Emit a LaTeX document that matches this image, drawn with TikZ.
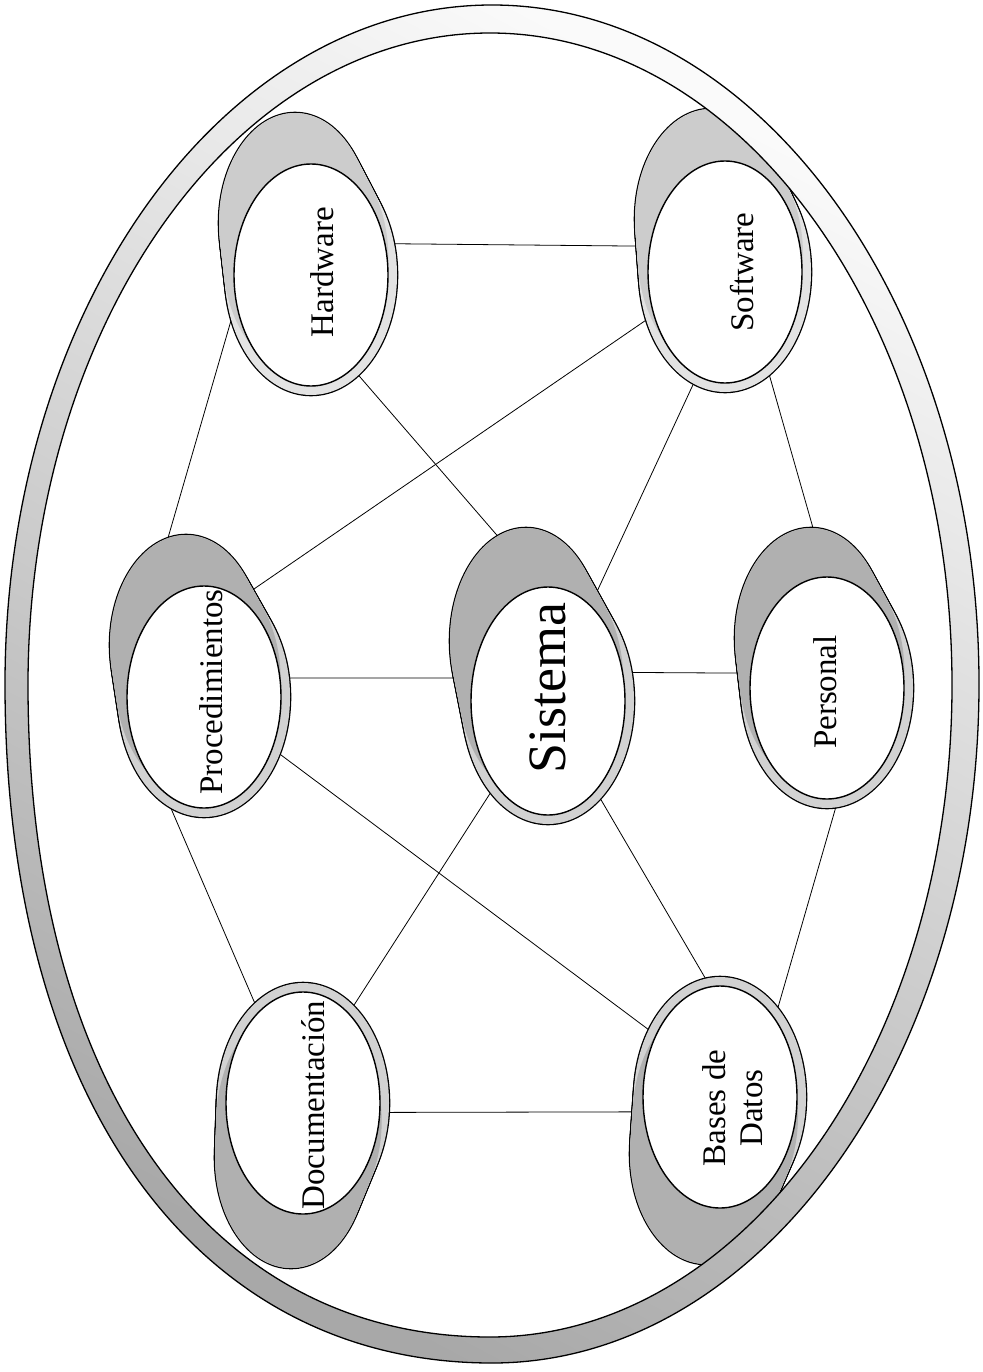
\documentclass[tikz,border=0pt]{standalone}
\usepackage{fontspec}
\setmainfont{Liberation Serif}
\usetikzlibrary{shapes.geometric}
\pgfdeclarelayer{bg}
\pgfdeclarelayer{blobl}
\pgfdeclarelayer{ringl}
\pgfsetlayers{bg,blobl,ringl,main}
\tikzset{
  nd/.style={ellipse, draw, fill=white, line width=1.4pt, inner sep=0pt, outer sep=0pt, minimum width=154pt, minimum height=222pt},
  lbl/.style={rotate=90, inner sep=0pt, font=\fontsize{33}{37}\selectfont, align=center},
  link/.style={line width=0.8pt},
  ringline/.style={line width=1.3pt},
  ringfill/.style={even odd rule, top color=gray!4, middle color=gray!50, bottom color=gray!68, shading angle=-28},
}
% cx cy a b ox oy light dark
\newcommand\myblob[8]{%
  \foreach \i in {0,...,12}{
    \draw[line width=2.6pt] ({#1+\i/12*(#5)},{#2+\i/12*(#6)}) ellipse [x radius={(#3+9-10*\i/12)*1pt}, y radius={(#4+9-10*\i/12)*1pt}];
  }
  \foreach \i in {0,...,12}{
    \fill[#7] ({#1+\i/12*(#5)},{#2+\i/12*(#6)}) ellipse [x radius={(#3+9-10*\i/12)*1pt}, y radius={(#4+9-10*\i/12)*1pt}];
  }
  \foreach \i in {4,...,12}{
    \fill[#8] ({#1+\i/12*(#5)},{#2+\i/12*(#6)}) ellipse [x radius={(#3+9-10*\i/12)*1pt}, y radius={(#4+9-10*\i/12)*1pt}];
  }
}
\newcommand\outerring{(492,5) .. controls (223,5) and (5,309) .. (5,684)
  .. controls (5,1098.2) and (195,1363) .. (492,1363)
  .. controls (761,1363) and (979,1059) .. (979,684)
  .. controls (979,309) and (761,5) .. (492,5) -- cycle}
\newcommand\innerring{(490,33) .. controls (234.8,33) and (28,324.9) .. (28,685)
  .. controls (28,1082.7) and (208.2,1337) .. (490,1337)
  .. controls (745.2,1337) and (952,1045.1) .. (952,685)
  .. controls (952,324.9) and (745.2,33) .. (490,33) -- cycle}
\begin{document}
\begin{tikzpicture}[x=1pt,y=-1pt]
\useasboundingbox (0,0) rectangle (982,1372);
\begin{pgfonlayer}{bg}
  \fill[white] (0,0) rectangle (982,1372);
\end{pgfonlayer}

% nodes
\node[nd] (hw)   at (311,275) {};
\node[nd] (sw)   at (725,272) {};
\node[nd] (proc) at (204,697) {};
\node[nd, minimum height=228pt] (sis) at (548,701) {};
\node[nd] (pers) at (827,688) {};
\node[nd] (doc)  at (303,1103) {};
\node[nd] (bd)   at (720,1097) {};

\node[lbl] (thw)   at (322,272) {Hardware};
\node[lbl] (tsw)   at (742,272) {Software};
\node[lbl] (tproc) at (211,692) {Procedimientos};
\node[lbl, font=\fontsize{54}{60}\selectfont] (tsis) at (548,688) {Sistema};
\node[lbl] (tpers) at (825,692) {Personal};
\node[lbl] (tdoc)  at (313,1105) {Documentación};
\node[lbl] (tbd)   at (733,1108) {Bases de\\Datos};

% blobs
\begin{pgfonlayer}{blobl}
  \myblob{311}{275}{77}{111}{-16}{-52}{gray!22}{gray!40}
  \myblob{725}{272}{77}{111}{-14}{-53}{gray!22}{gray!40}
  \myblob{204}{697}{77}{111}{-18}{-52}{gray!35}{gray!62}
  \myblob{548}{701}{77}{114}{-22}{-60}{gray!35}{gray!62}
  \myblob{827}{688}{77}{111}{-16}{-50}{gray!35}{gray!62}
  \myblob{303}{1103}{77}{111}{-12}{55}{gray!35}{gray!62}
  \myblob{720}{1097}{77}{111}{-14}{57}{gray!35}{gray!62}
\end{pgfonlayer}

% big ring
\begin{pgfonlayer}{ringl}
  \shade[ringfill] \outerring \innerring;
  \draw[ringline] \outerring;
  \draw[ringline] \innerring;
\end{pgfonlayer}

% connectors
\begin{pgfonlayer}{bg}
  \draw[link] (hw.23) -- (sw.161);
  \draw[link] (hw.200) -- (proc.137);
  \draw[link] (hw.294) -- (sis.93);
  \draw[link] (sw.211) -- (proc.70);
  \draw[link] (sw.255) -- (sis.66);
  \draw[link] (sw.294) -- (pers.90);
  \draw[link] (proc.14) -- (sis.163);
  \draw[link] (proc.247) -- (doc.116);
  \draw[link] (proc.323) -- (bd.136);
  \draw[link] (sis.21) -- (pers.169);
  \draw[link] (sis.238) -- (doc.63);
  \draw[link] (sis.298) -- (bd.95);
  \draw[link] (pers.276) -- (bd.55);
  \draw[link] (doc.353) -- (bd.191);
\end{pgfonlayer}
\end{tikzpicture}
\end{document}
